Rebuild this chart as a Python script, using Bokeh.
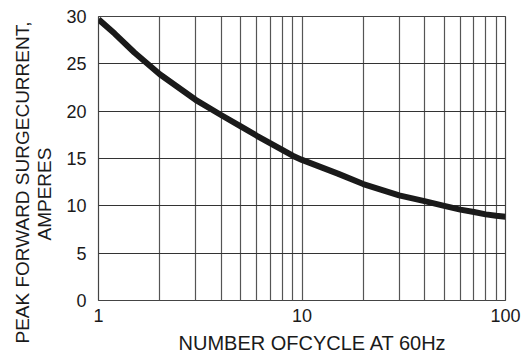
from bokeh.plotting import figure
from bokeh.models import FixedTicker, Range1d, Title
from bokeh.embed import file_html
from bokeh.resources import INLINE

cycles = [1, 1.2, 1.5, 2, 3, 4, 5, 6, 7, 8, 9, 10, 15, 20, 30, 40, 50, 60, 70, 80, 90, 100]
current = [29.7, 28.2, 26.2, 23.9, 21.2, 19.6, 18.4, 17.4, 16.6, 15.9, 15.3, 14.85,
           13.4, 12.3, 11.1, 10.5, 10.0, 9.6, 9.35, 9.1, 8.95, 8.85]

x_major = [1, 10, 100]
x_minor = [2, 3, 4, 5, 6, 7, 8, 9, 20, 30, 40, 50, 60, 70, 80, 90]
y_major = [0, 5, 10, 15, 20, 25, 30]

x_title = "NUMBER OFCYCLE AT 60Hz"
y_title_1 = "PEAK FORWARD SURGECURRENT,"
y_title_2 = "AMPERES"

font = "Liberation Sans"
ink = "#1a1a1a"

p = figure(width=525, height=362, x_axis_type="log",
           x_range=Range1d(1, 100), y_range=Range1d(0, 30),
           output_backend="svg", toolbar_location=None,
           min_border_left=98, min_border_right=20,
           min_border_top=16, min_border_bottom=62)

p.xaxis.ticker = FixedTicker(ticks=x_major, minor_ticks=x_minor)
p.yaxis.ticker = FixedTicker(ticks=y_major)
p.xaxis.major_label_overrides = {1: "1", 10: "10", 100: "100"}

for ax in (p.xaxis[0], p.yaxis[0]):
    ax.major_label_text_font = font
    ax.major_label_text_font_size = "18px"
    ax.major_label_text_color = ink
    ax.major_tick_out = 0
    ax.major_tick_in = 0
    ax.minor_tick_out = 0
    ax.minor_tick_in = 0
    ax.axis_line_color = None

p.xaxis.major_label_standoff = 8
p.yaxis.major_label_standoff = 12


def side_title(text, size, **kw):
    return Title(text=text, text_font=font, text_font_size=size,
                 text_font_style="normal", text_color=ink, **kw)


# axis titles as side titles, so that their position along the axis can be set
p.add_layout(side_title(y_title_2, "19px", align="left", offset=60, standoff=13,
                        vertical_align="top"), "left")
try:
    t_peak = side_title(y_title_1, "19px", align="left", offset=-43, standoff=-11,
                        vertical_align="bottom")
except Exception:
    t_peak = side_title(y_title_1, "19px", align="left", offset=-43, standoff=0,
                        vertical_align="middle")
p.add_layout(t_peak, "left")
p.add_layout(side_title(x_title, "20px", align="left", offset=80, standoff=10,
                        vertical_align="bottom"), "below")

p.xgrid.grid_line_color = "#555555"
p.xgrid.grid_line_width = 1.2
p.xgrid.minor_grid_line_color = "#555555"
p.xgrid.minor_grid_line_width = 1.2
p.ygrid.grid_line_color = "#333333"
p.ygrid.grid_line_width = 1.2

p.outline_line_color = "#444444"
p.outline_line_width = 1.2

p.line(cycles, current, line_width=6, line_color=ink, line_cap="butt", line_join="round")

open("out.html", "w").write(file_html(p, INLINE))
